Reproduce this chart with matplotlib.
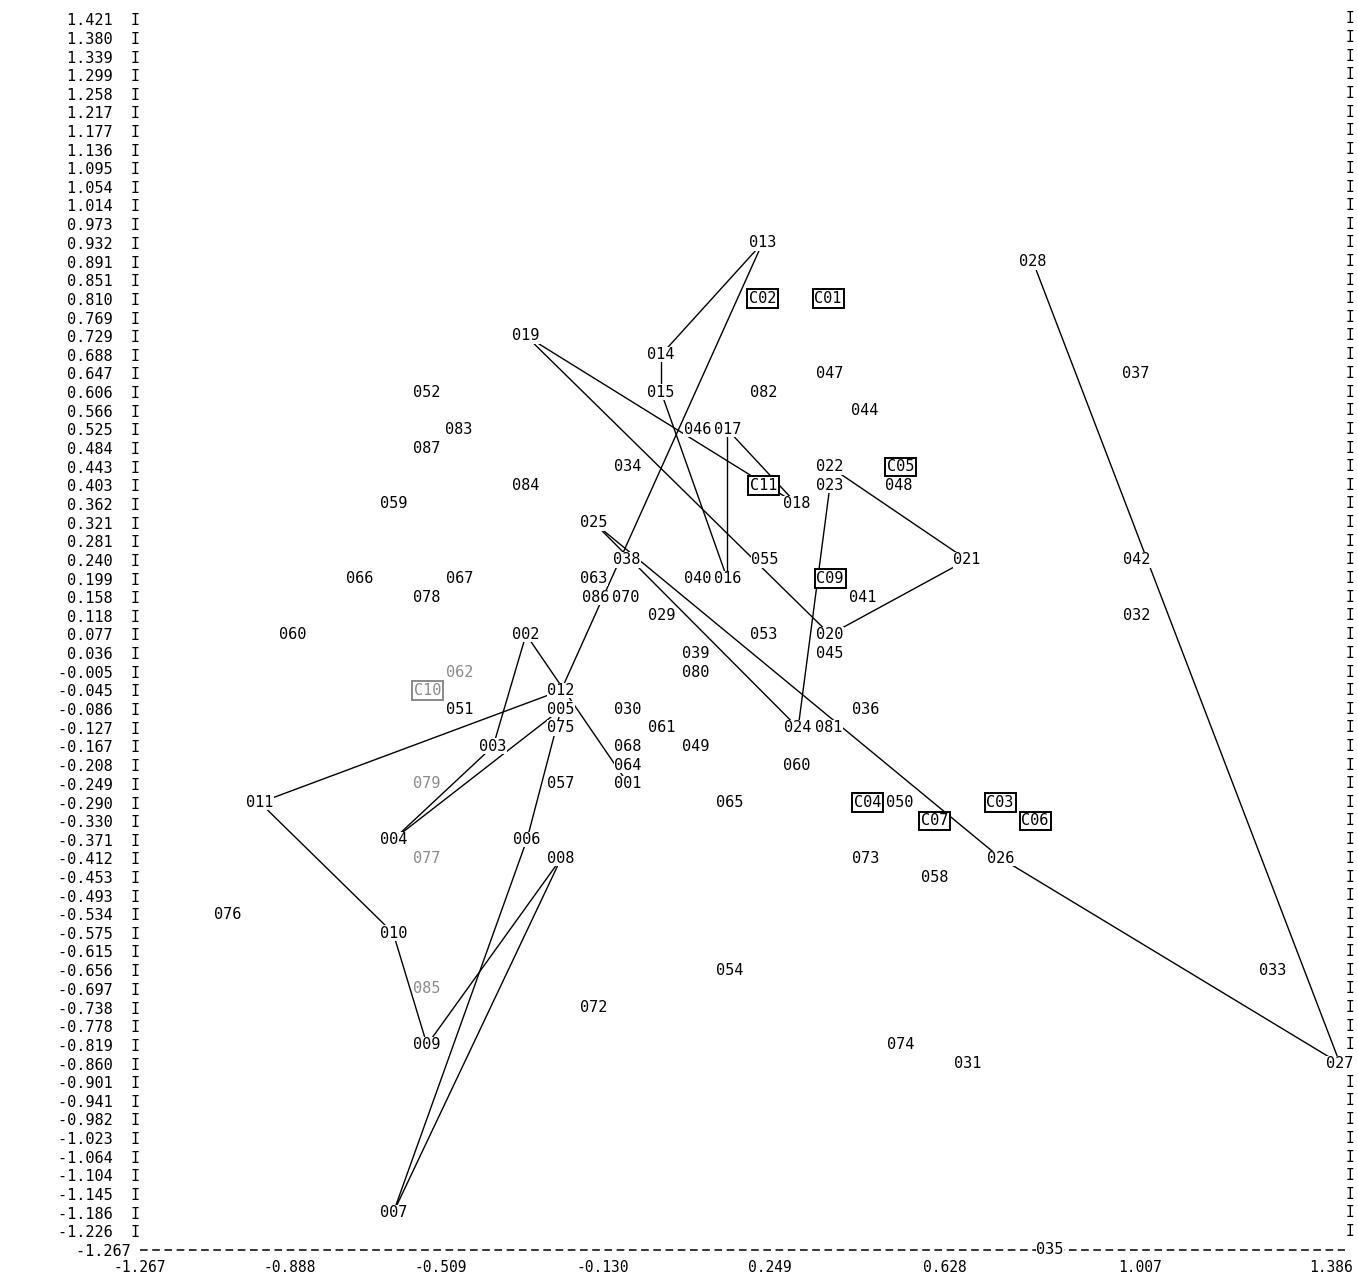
import numpy as np
import matplotlib
matplotlib.use("Agg")
import matplotlib.pyplot as plt
from matplotlib.transforms import blended_transform_factory

plt.rcParams['font.family'] = ['DejaVu Sans Mono']

# etiquetas de los ejes (tal como salen en el listado)
x_ticks = [-1.267, -0.888, -0.509, -0.130, 0.249, 0.628, 1.007, 1.386]
x_tick_labels = ["-1.267", "-0.888", "-0.509", "-0.130", "0.249", "0.628", "1.007", "1.386"]
# columnas de la hoja escaneada donde cae cada etiqueta (escala no uniforme)
x_cols = [140, 290, 441, 603, 770, 945, 1140, 1331]

y_ticks = [1.421, 1.380, 1.339, 1.299, 1.258, 1.217, 1.177, 1.136, 1.095, 1.054,
           1.014, 0.973, 0.932, 0.891, 0.851, 0.810, 0.769, 0.729, 0.688, 0.647,
           0.606, 0.566, 0.525, 0.484, 0.443, 0.403, 0.362, 0.321, 0.281, 0.240,
           0.199, 0.158, 0.118, 0.077, 0.036, -0.005, -0.045, -0.086, -0.127, -0.167,
           -0.208, -0.249, -0.290, -0.330, -0.371, -0.412, -0.453, -0.493, -0.534, -0.575,
           -0.615, -0.656, -0.697, -0.738, -0.778, -0.819, -0.860, -0.901, -0.941, -0.982,
           -1.023, -1.064, -1.104, -1.145, -1.186, -1.226, -1.267]

# puntos: etiqueta, coordenada x, coordenada y
etiquetas = ["013", "028", "C02", "C01", "019", "014", "047", "037", "052", "015",
             "082", "044", "083", "046", "017", "087", "034", "022", "C05", "084",
             "C11", "023", "048", "059", "018", "025", "038", "055", "021", "042",
             "066", "067", "063", "040", "016", "C09", "078", "086", "070", "041",
             "029", "032", "060", "002", "053", "020", "039", "045", "062", "080",
             "C10", "012", "051", "005", "030", "036", "075", "061", "024", "081",
             "003", "068", "049", "064", "060", "079", "057", "001", "011", "065",
             "C04", "050", "C03", "C07", "C06", "004", "006", "077", "008", "073",
             "026", "058", "076", "010", "054", "033", "085", "072", "009", "074",
             "031", "027", "007", "035"]
xs = [0.232, 0.799, 0.232, 0.375, -0.310, 0.002, 0.379, 0.999, -0.544, 0.002,
      0.235, 0.453, -0.467, 0.084, 0.152, -0.544, -0.073, 0.379, 0.531, -0.310,
      0.234, 0.379, 0.528, -0.629, 0.307, -0.151, -0.076, 0.238, 0.671, 1.001,
      -0.712, -0.465, -0.151, 0.084, 0.152, 0.379, -0.544, -0.148, -0.078, 0.450,
      0.004, 1.001, -0.880, -0.310, 0.235, 0.379, 0.081, 0.379, -0.465, 0.081,
      -0.542, -0.228, -0.465, -0.228, -0.073, 0.457, -0.228, 0.004, 0.310, 0.376,
      -0.387, -0.073, 0.081, -0.073, 0.307, -0.544, -0.228, -0.073, -0.964, 0.158,
      0.460, 0.530, 0.735, 0.606, 0.803, -0.629, -0.308, -0.544, -0.228, 0.457,
      0.737, 0.606, -1.045, -0.629, 0.158, 1.271, -0.544, -0.151, -0.544, 0.531,
      0.673, 1.404, -0.629, 0.832]
ys = [0.932, 0.891, 0.810, 0.810, 0.729, 0.688, 0.647, 0.647, 0.606, 0.606,
      0.606, 0.566, 0.525, 0.525, 0.525, 0.484, 0.443, 0.443, 0.443, 0.403,
      0.403, 0.403, 0.403, 0.362, 0.362, 0.321, 0.240, 0.240, 0.240, 0.240,
      0.199, 0.199, 0.199, 0.199, 0.199, 0.199, 0.158, 0.158, 0.158, 0.158,
      0.118, 0.118, 0.077, 0.077, 0.077, 0.077, 0.036, 0.036, -0.005, -0.005,
      -0.045, -0.045, -0.086, -0.086, -0.086, -0.086, -0.127, -0.127, -0.127, -0.127,
      -0.167, -0.167, -0.167, -0.208, -0.208, -0.249, -0.249, -0.249, -0.290, -0.290,
      -0.290, -0.290, -0.290, -0.330, -0.330, -0.371, -0.371, -0.412, -0.412, -0.412,
      -0.412, -0.453, -0.534, -0.575, -0.656, -0.656, -0.697, -0.738, -0.819, -0.819,
      -0.860, -0.860, -1.186, -1.267]

# puntos que salieron casi borrados en la impresión
borrosos = ["062", "C10", "085", "079", "077"]

# uniones entre puntos
uniones = [("013", "014"), ("013", "012"), ("014", "015"), ("015", "016"),
           ("017", "016"), ("017", "018"), ("019", "018"), ("019", "020"),
           ("022", "021"), ("021", "020"), ("023", "024"), ("025", "024"),
           ("025", "026"), ("026", "027"), ("028", "027"), ("002", "003"),
           ("002", "001"), ("011", "012"), ("011", "010"), ("010", "009"),
           ("009", "008"), ("008", "007"), ("006", "007"), ("006", "005"),
           ("004", "003"), ("004", "005")]


def _tramo(v, a, b):
    v = np.asarray(v, dtype=float)
    p = np.interp(v, a, b)
    lo = b[0] + (v - a[0]) * (b[1] - b[0]) / (a[1] - a[0])
    hi = b[-1] + (v - a[-1]) * (b[-1] - b[-2]) / (a[-1] - a[-2])
    return np.where(v < a[0], lo, np.where(v > a[-1], hi, p))


def adelante(v):
    return _tramo(v, x_ticks, x_cols)


def atras(p):
    return _tramo(p, x_cols, x_ticks)


fig = plt.figure(figsize=(13.58, 12.8), dpi=100)
ax = fig.add_axes([140 / 1358, 30 / 1280, 1205 / 1358, 1231 / 1280])
ax.set_xscale('function', functions=(adelante, atras))
xmax = float(atras(1345))
ax.set_xlim(-1.267, xmax)
ax.set_ylim(-1.267, 1.421)
for s in ax.spines.values():
    s.set_visible(False)

# ejes a la manera de la impresora
ylab = [f"{v:.3f}  I" for v in y_ticks[:-1]] + [f"{y_ticks[-1]:.3f} "]
ax.set_yticks(y_ticks, labels=ylab)
ax.set_xticks(x_ticks, labels=x_tick_labels)
ax.tick_params(axis='y', length=0, pad=0, labelsize=11)
ax.tick_params(axis='x', length=0, pad=7, labelsize=10.5)

# borde derecho de "I", salvo donde un punto ocupa la columna
ocupadas = [y for x, y in zip(xs, ys) if x > xmax - 0.03]
tr = blended_transform_factory(ax.transAxes, ax.transData)
for v in y_ticks[:-1]:
    if v in ocupadas:
        continue
    ax.text(1.004, v, "I", transform=tr, ha='center', va='center', fontsize=10.5)
ax.plot([0, 1], [-1.267, -1.267], transform=tr, color='black', lw=1.1,
        dashes=(5, 3), clip_on=False)

pos = dict(zip(etiquetas, zip(xs, ys)))
for a, b in uniones:
    (x1, y1), (x2, y2) = pos[a], pos[b]
    ax.plot([x1, x2], [y1, y2], color='black', lw=1.0, zorder=1)

for et, x, y in zip(etiquetas, xs, ys):
    color = '#8a8a8a' if et in borrosos else 'black'
    if et.startswith("C"):
        caja = dict(boxstyle='square,pad=0.12', facecolor='white',
                    edgecolor=color, lw=1.4)
    else:
        caja = dict(boxstyle='square,pad=0.02', facecolor='white', edgecolor='none')
    ax.text(x, y, et, ha='center', va='center', fontsize=11, color=color,
            bbox=caja, zorder=3)

fig.savefig("out.png", dpi=100)
